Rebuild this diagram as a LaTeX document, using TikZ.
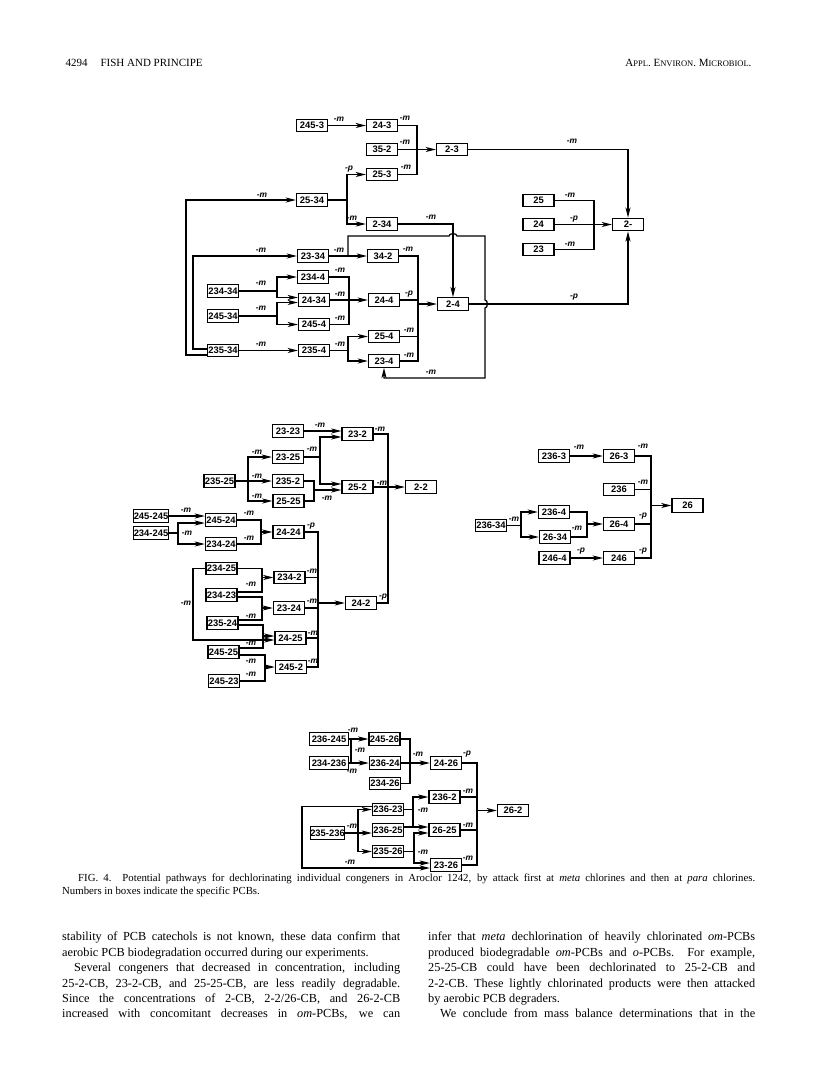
\documentclass[tikz,border=0pt]{standalone}
\usepackage{fontspec}
\setmainfont{Liberation Serif}
\newfontfamily\boxfamily{Liberation Sans}
\usetikzlibrary{arrows.meta}
\newcommand{\boxfont}{\boxfamily\bfseries\fontsize{9.4}{10}\selectfont}
\newcommand{\labfont}{\boxfamily\bfseries\itshape\fontsize{8.4}{9}\selectfont}
\newcommand{\smc}[1]{{\fontsize{8.5}{10}\selectfont #1}}
\newcommand{\fullline}[2]{\makebox[#1][s]{#2}}
\tikzstyle{pcb} = [rectangle, minimum width=31pt, minimum height=12.5pt, inner sep=0pt,
                   text centered, draw=black, line width=1.4pt, font=\boxfont]
\tikzstyle{arrow} = [-{Stealth[length=10pt,width=5pt,inset=2.5pt]}, line width=1.25pt]
\tikzstyle{link} = [line width=1.25pt]
\tikzstyle{lab} = [font=\labfont, inner sep=0pt]
\tikzstyle{prose} = [inner sep=0pt, align=left]

\begin{document}
\begin{tikzpicture}[x=1pt, y=-1pt]
    \useasboundingbox (0,0) rectangle (816,1090);

    % Running head
    \node[anchor=base west, font=\fontsize{11}{13}\selectfont] (pageno) at (62,66) {4294};
    \node[anchor=base west, font=\fontsize{11}{13}\selectfont] (authors) at (97,66) {FISH AND PRINCIPE};
    \node[anchor=base east, font=\fontsize{11}{13}\selectfont] (journal) at (755,66)
        {A\smc{PPL}. E\smc{NVIRON}. M\smc{ICROBIOL}.};

    % Scheme 1
    \node[pcb] (a245-3) at (312,125.5) {245-3};
    \node[pcb] (a24-3) at (382,125.5) {24-3};
    \node[pcb] (a35-2) at (382,149.5) {35-2};
    \node[pcb] (a2-3) at (452,149.5) {2-3};
    \node[pcb] (a25-3) at (382,174.5) {25-3};
    \node[pcb] (a25-34) at (312,200) {25-34};
    \node[pcb] (a2-34) at (382,224) {2-34};
    \node[pcb] (a23-34) at (313,256) {23-34};
    \node[pcb] (a34-2) at (383,256) {34-2};
    \node[pcb] (a234-4) at (313,277) {234-4};
    \node[pcb] (a234-34) at (223,291) {234-34};
    \node[pcb] (a24-34) at (314,300) {24-34};
    \node[pcb] (a24-4) at (384,300) {24-4};
    \node[pcb] (a2-4) at (453,304) {2-4};
    \node[pcb] (a245-34) at (223,316) {245-34};
    \node[pcb] (a245-4) at (314,324.5) {245-4};
    \node[pcb] (a25-4) at (384,336.5) {25-4};
    \node[pcb] (a235-34) at (223,350.5) {235-34};
    \node[pcb] (a235-4) at (314,350.5) {235-4};
    \node[pcb] (a23-4) at (384,361) {23-4};
    \node[pcb] (a25) at (538.5,200.5) {25};
    \node[pcb] (a24) at (538.5,224.5) {24};
    \node[pcb] (a23) at (538.5,249.5) {23};
    \node[pcb] (a2) at (628,224.5) {2-};

    \coordinate (ja) at (417,149.5);
    \coordinate (jb) at (347,200);
    \coordinate (loopa) at (186,200);
    \coordinate (loopb) at (193,256);
    \coordinate (jc) at (277,291);
    \coordinate (jd) at (277,316);
    \coordinate (je) at (349,300);
    \coordinate (jf) at (348,350.5);
    \coordinate (jg) at (418,304);
    \coordinate (jh) at (594,224.5);
    \coordinate (ji) at (348,256);
    \coordinate (hopa) at (453,236);
    \coordinate (hopb) at (485,304);
    \coordinate (cornera) at (485,236);
    \coordinate (cornerb) at (485,378);

    \draw[arrow] (a245-3) -- (a24-3);
    \draw[link] (a24-3.east) -| (ja) |- (a25-3.east);
    \draw[arrow] (a35-2) -- (a2-3);
    \draw[link] (a25-34.east) -- (jb);
    \draw[arrow] (jb) |- (a25-3.west);
    \draw[arrow] (jb) |- (a2-34.west);
    \draw[arrow] ([yshift=-4.5pt]a235-34.west) -| (loopa) -- (a25-34.west);
    \draw[arrow] ([yshift=1.5pt]a235-34.west) -| (loopb) -- (a23-34.west);
    \draw[arrow] (a235-34) -- (a235-4);
    \draw[arrow] (a23-34) -- (a34-2);
    \draw[arrow] (ji) |- ([xshift=-4pt]hopa) to[out=90,in=90] ([xshift=4pt]hopa) -- (cornera)
        -- ([yshift=4pt]hopb) to[out=0,in=0] ([yshift=-4pt]hopb) -- (cornerb) -| (a23-4.south);
    \draw[arrow] (a2-34.east) -| (a2-4.north);
    \draw[link] (a234-34.east) -- (jc);
    \draw[arrow] (jc) |- (a234-4.west);
    \draw[arrow] (jc) |- ([yshift=2.5pt]a24-34.west);
    \draw[link] (a245-34.east) -- (jd);
    \draw[arrow] (jd) |- ([yshift=-2.5pt]a24-34.west);
    \draw[arrow] (jd) |- (a245-4.west);
    \draw[link] (a234-4.east) -| (je) |- (a245-4.east);
    \draw[arrow] (a24-34) -- (a24-4);
    \draw[link] (a235-4.east) -- (jf);
    \draw[arrow] (jf) |- (a25-4.west);
    \draw[arrow] (jf) |- (a23-4.west);
    \draw[link] (a34-2.east) -| (jg) |- (a23-4.east);
    \draw[link] (a24-4.east) -- (a24-4.east -| jg);
    \draw[link] (a25-4.east) -- (a25-4.east -| jg);
    \draw[arrow] (jg) -- (a2-4.west);
    \draw[arrow] (a2-3.east) -| (a2.north);
    \draw[arrow] (a2-4.east) -| (a2.south);
    \draw[link] (a25.east) -| (jh) |- (a23.east);
    \draw[arrow] (a24) -- (a2);

    \node[lab] (la1) at (339,119) {-m};
    \node[lab] (la2) at (405,118) {-m};
    \node[lab] (la3) at (405,142) {-m};
    \node[lab] (la4) at (406,167) {-m};
    \node[lab] (la5) at (349,169) {-p};
    \node[lab] (la6) at (352,218) {-m};
    \node[lab] (la7) at (262,195) {-m};
    \node[lab] (la8) at (261,250) {-m};
    \node[lab] (la9) at (261,344) {-m};
    \node[lab] (la10) at (339,250) {-m};
    \node[lab] (la11) at (408,249) {-m};
    \node[lab] (la12) at (261,283) {-m};
    \node[lab] (la13) at (261,308) {-m};
    \node[lab] (la14) at (340,270) {-m};
    \node[lab] (la15) at (340,294) {-m};
    \node[lab] (la16) at (340,318) {-m};
    \node[lab] (la17) at (409,294) {-p};
    \node[lab] (la18) at (340,344) {-m};
    \node[lab] (la19) at (409,330) {-m};
    \node[lab] (la20) at (409,355) {-m};
    \node[lab] (la21) at (431,217) {-m};
    \node[lab] (la22) at (431,372) {-m};
    \node[lab] (la23) at (572,141) {-m};
    \node[lab] (la24) at (574,297) {-p};
    \node[lab] (la25) at (570,195) {-m};
    \node[lab] (la26) at (574,219) {-p};
    \node[lab] (la27) at (570,244) {-m};

    % Scheme 2
    \node[pcb] (b23-23) at (288,431) {23-23};
    \node[pcb] (b23-2) at (357.5,434) {23-2};
    \node[pcb] (b23-25) at (288,457) {23-25};
    \node[pcb] (b235-25) at (219.5,481) {235-25};
    \node[pcb] (b235-2) at (288,481) {235-2};
    \node[pcb] (b25-2) at (357.5,487) {25-2};
    \node[pcb] (b2-2) at (421,487) {2-2};
    \node[pcb] (b25-25) at (288.5,501) {25-25};
    \node[pcb] (b245-245) at (151,516) {245-245};
    \node[pcb] (b245-24) at (221,520) {245-24};
    \node[pcb] (b24-24) at (288.5,532) {24-24};
    \node[pcb] (b234-245) at (151,533) {234-245};
    \node[pcb] (b234-24) at (221,544) {234-24};
    \node[pcb] (b234-25) at (221.5,568.5) {234-25};
    \node[pcb] (b234-2) at (289.5,577.5) {234-2};
    \node[pcb] (b234-23) at (221.5,595) {234-23};
    \node[pcb] (b23-24) at (289,608) {23-24};
    \node[pcb] (b24-2) at (361,603) {24-2};
    \node[pcb] (b235-24) at (222.5,623) {235-24};
    \node[pcb] (b24-25) at (290.5,638) {24-25};
    \node[pcb] (b245-25) at (223.5,652) {245-25};
    \node[pcb] (b245-2) at (291,667) {245-2};
    \node[pcb] (b245-23) at (224,681) {245-23};

    \coordinate (ka) at (248,481);
    \coordinate (kb) at (320,457);
    \coordinate (kc) at (314,490);
    \coordinate (kd) at (388,487);
    \coordinate (ke) at (178,533);
    \coordinate (kf) at (261,532);
    \coordinate (kg) at (318,603);
    \coordinate (kh) at (262,577.5);
    \coordinate (ki) at (262,608);
    \coordinate (kj) at (263,636);
    \coordinate (kk) at (193,640);
    \coordinate (kl) at (265,667);

    \draw[arrow] (b23-23.east) -- ([yshift=3pt]b23-2.west);
    \draw[link] (b235-25) -- (ka);
    \draw[arrow] (ka) |- (b23-25.west);
    \draw[arrow] (ka) -- (b235-2.west);
    \draw[arrow] (ka) |- (b25-25.west);
    \draw[link] (b23-25.east) -- (kb);
    \draw[arrow] (kb) |- ([yshift=-3pt]b23-2.west);
    \draw[arrow] (kb) |- ([yshift=3pt]b25-2.west);
    \draw[link] (b235-2.east) -| (kc) |- (b25-25.east);
    \draw[arrow] (kc) -- ([yshift=-3pt]b25-2.west);
    \draw[link] (b23-2.east) -| (kd) |- (b24-2.east);
    \draw[arrow] (b25-2) -- (b2-2);
    \draw[arrow] (b245-245.east) -- ([yshift=4pt]b245-24.west);
    \draw[link] (b234-245) -- (ke);
    \draw[arrow] (ke) |- ([yshift=-3pt]b245-24.west);
    \draw[arrow] (ke) |- (b234-24.west);
    \draw[link] (b245-24.east) -| (kf) |- (b234-24.east);
    \draw[arrow] (kf) -- (b24-24.west);
    \draw[link] (b24-24.east) -| (kg) |- (b245-2.east);
    \draw[link] (b234-2.east) -- (b234-2.east -| kg);
    \draw[link] (b23-24.east) -- (b23-24.east -| kg);
    \draw[link] (b24-25.east) -- (b24-25.east -| kg);
    \draw[arrow] (kg) -- (b24-2.west);
    \draw[link] (b234-25.east) -| (kh) |- ([yshift=3pt]b234-23.east);
    \draw[arrow] (kh) -- (b234-2.west);
    \draw[link] ([yshift=-2pt]b234-23.east) -| (ki) |- ([yshift=3pt]b235-24.east);
    \draw[arrow] (ki) -- (b23-24.west);
    \draw[link] ([yshift=-2pt]b235-24.east) -| (kj) |- ([yshift=4pt]b245-25.east);
    \draw[arrow] (kj) -- ([yshift=2pt]b24-25.west);
    \draw[arrow] (b234-25.west) -| (kk) -- ([yshift=-2pt]b24-25.west);
    \draw[link] ([yshift=-3pt]b245-25.east) -| (kl) |- (b245-23.east);
    \draw[arrow] (kl) -- (b245-2.west);

    \node[lab] (lb1) at (320,425) {-m};
    \node[lab] (lb2) at (257,452) {-m};
    \node[lab] (lb3) at (257,476) {-m};
    \node[lab] (lb4) at (257,496) {-m};
    \node[lab] (lb5) at (312,449) {-m};
    \node[lab] (lb6) at (327,498) {-m};
    \node[lab] (lb7) at (380,429) {-m};
    \node[lab] (lb8) at (382,483) {-m};
    \node[lab] (lb9) at (186,510) {-m};
    \node[lab] (lb10) at (187,533) {-m};
    \node[lab] (lb11) at (249,513) {-m};
    \node[lab] (lb12) at (249,538) {-m};
    \node[lab] (lb13) at (311,526) {-p};
    \node[lab] (lb14) at (312,571) {-m};
    \node[lab] (lb15) at (312,601) {-m};
    \node[lab] (lb16) at (313,633) {-m};
    \node[lab] (lb17) at (313,661) {-m};
    \node[lab] (lb18) at (383,597) {-p};
    \node[lab] (lb19) at (251,584) {-m};
    \node[lab] (lb20) at (251,616) {-m};
    \node[lab] (lb21) at (251,643) {-m};
    \node[lab] (lb22) at (251,661) {-m};
    \node[lab] (lb23) at (251,674) {-m};
    \node[lab] (lb24) at (186,603) {-m};

    % Scheme 3
    \node[pcb] (c236-3) at (554,456) {236-3};
    \node[pcb] (c26-3) at (619,456) {26-3};
    \node[pcb] (c236) at (619,489.5) {236};
    \node[pcb, minimum height=14pt] (c26) at (687.5,505.5) {26};
    \node[pcb] (c236-4) at (554,512) {236-4};
    \node[pcb] (c236-34) at (491,525.5) {236-34};
    \node[pcb] (c26-4) at (619,524) {26-4};
    \node[pcb] (c26-34) at (555,537) {26-34};
    \node[pcb] (c246-4) at (554.5,558) {246-4};
    \node[pcb] (c246) at (619,558) {246};

    \coordinate (ma) at (651,505.5);
    \coordinate (mb) at (521,525.5);
    \coordinate (mc) at (587,524);

    \draw[arrow] (c236-3) -- (c26-3);
    \draw[link] (c26-3.east) -| (ma) |- (c246.east);
    \draw[link] (c236.east) -- (c236.east -| ma);
    \draw[link] (c26-4.east) -- (c26-4.east -| ma);
    \draw[arrow] (ma) -- (c26.west);
    \draw[link] (c236-34) -- (mb);
    \draw[arrow] (mb) |- (c236-4.west);
    \draw[arrow] (mb) |- (c26-34.west);
    \draw[link] (c236-4.east) -| (mc) |- (c26-34.east);
    \draw[arrow] (mc) -- (c26-4.west);
    \draw[arrow] (c246-4) -- (c246);

    \node[lab] (lc1) at (579,447) {-m};
    \node[lab] (lc2) at (643,446) {-m};
    \node[lab] (lc3) at (643,482) {-m};
    \node[lab] (lc4) at (643,516) {-p};
    \node[lab] (lc5) at (643,551) {-p};
    \node[lab] (lc6) at (514,519) {-m};
    \node[lab] (lc7) at (577,528) {-m};
    \node[lab] (lc8) at (581,551) {-p};

    % Scheme 4
    \node[pcb, minimum width=39pt] (d236-245) at (329,739) {236-245};
    \node[pcb] (d245-26) at (384.5,739) {245-26};
    \node[pcb, minimum width=39pt] (d234-236) at (329,763) {234-236};
    \node[pcb] (d236-24) at (385,763) {236-24};
    \node[pcb] (d24-26) at (446,763) {24-26};
    \node[pcb] (d234-26) at (385,783.5) {234-26};
    \node[pcb] (d236-2) at (444.5,797) {236-2};
    \node[pcb] (d236-23) at (388,809.5) {236-23};
    \node[pcb] (d26-2) at (513,810.5) {26-2};
    \node[pcb, minimum width=34pt] (d235-236) at (327.5,833) {235-236};
    \node[pcb] (d236-25) at (388,830) {236-25};
    \node[pcb] (d26-25) at (444.5,830) {26-25};
    \node[pcb] (d235-26) at (388,851.5) {235-26};
    \node[pcb] (d23-26) at (446,865) {23-26};

    \coordinate (na) at (351,739);
    \coordinate (nb) at (410,763);
    \coordinate (nc) at (477,810.5);
    \coordinate (nd) at (358,833);
    \coordinate (ne) at (413,809.5);
    \coordinate (nf) at (414,851.5);
    \coordinate (ng) at (302,868);

    \draw[arrow] (d236-245) -- (d245-26);
    \draw[link] (na) -- (na |- d234-236.east);
    \draw[arrow] (d234-236) -- (d236-24);
    \draw[link] (d245-26.east) -| (nb) |- (d234-26.east);
    \draw[arrow] (d236-24) -- (d24-26);
    \draw[link] (d24-26.east) -| (nc) |- (d23-26.east);
    \draw[link] (d236-2.east) -- (d236-2.east -| nc);
    \draw[link] (d26-25.east) -- (d26-25.east -| nc);
    \draw[arrow] (nc) -- (d26-2.west);
    \draw[link] (d235-236.east) -- (nd);
    \draw[arrow] (nd) |- (d236-23.west);
    \draw[arrow] (nd) -- ([yshift=-3pt]d236-25.west);
    \draw[arrow] (nd) |- (d235-26.west);
    \draw[link] (d236-23.east) -- (ne);
    \draw[arrow] (ne) |- (d236-2.west);
    \draw[arrow] (ne) |- ([yshift=3pt]d26-25.west);
    \draw[link] ([yshift=3pt]d236-25.east) -- ([yshift=3pt]d236-25.east -| ne);
    \draw[link] (d235-26.east) -- (nf);
    \draw[arrow] (nf) |- ([yshift=-3pt]d26-25.west);
    \draw[arrow] (nf) |- ([yshift=2pt]d23-26.west);
    \draw[arrow] ([yshift=3pt]d236-23.west) -| (ng) -- ([yshift=-3pt]d23-26.west);

    \node[lab] (ld1) at (353,730) {-m};
    \node[lab] (ld2) at (360,750) {-m};
    \node[lab] (ld3) at (352,771) {-m};
    \node[lab] (ld4) at (418,754) {-m};
    \node[lab] (ld5) at (467,754) {-p};
    \node[lab] (ld6) at (468,791) {-m};
    \node[lab] (ld7) at (468,825) {-m};
    \node[lab] (ld8) at (468,858) {-m};
    \node[lab] (ld9) at (352,826) {-m};
    \node[lab] (ld10) at (423,810) {-m};
    \node[lab] (ld11) at (423,852) {-m};
    \node[lab] (ld12) at (350,862) {-m};

    % Legend and text
    \node[prose, anchor=north west, font=\fontsize{10.8}{13}\selectfont] (caption) at (62,874)
        {\hspace*{16pt}\fullline{677pt}{FIG. 4. Potential pathways for dechlorinating individual congeners in Aroclor 1242, by attack first at \emph{meta} chlorines and then at \emph{para} chlorines.}\\
         Numbers in boxes indicate the specific PCBs.};
    \node[prose, anchor=north west, font=\fontsize{12.3}{15.4}\selectfont] (colleft) at (62,932)
        {\fullline{338pt}{stability of PCB catechols is not known, these data confirm that}\\
         aerobic PCB biodegradation occurred during our experiments.\\
         \hspace*{12pt}\fullline{326pt}{Several congeners that decreased in concentration, including}\\
         \fullline{338pt}{25-2-CB, 23-2-CB, and 25-25-CB, are less readily degradable.}\\
         \fullline{338pt}{Since the concentrations of 2-CB, 2-2/26-CB, and 26-2-CB}\\
         \fullline{338pt}{increased with concomitant decreases in \emph{om}-PCBs, we can}};
    \node[prose, anchor=north west, font=\fontsize{12.3}{15.4}\selectfont] (colright) at (428,932)
        {\fullline{327pt}{infer that \emph{meta} dechlorination of heavily chlorinated \emph{om}-PCBs}\\
         \fullline{327pt}{produced biodegradable \emph{om}-PCBs and \emph{o}-PCBs. For example,}\\
         \fullline{327pt}{25-25-CB could have been dechlorinated to 25-2-CB and}\\
         \fullline{327pt}{2-2-CB. These lightly chlorinated products were then attacked}\\
         by aerobic PCB degraders.\\
         \hspace*{12pt}\fullline{315pt}{We conclude from mass balance determinations that in the}};
\end{tikzpicture}
\end{document}
